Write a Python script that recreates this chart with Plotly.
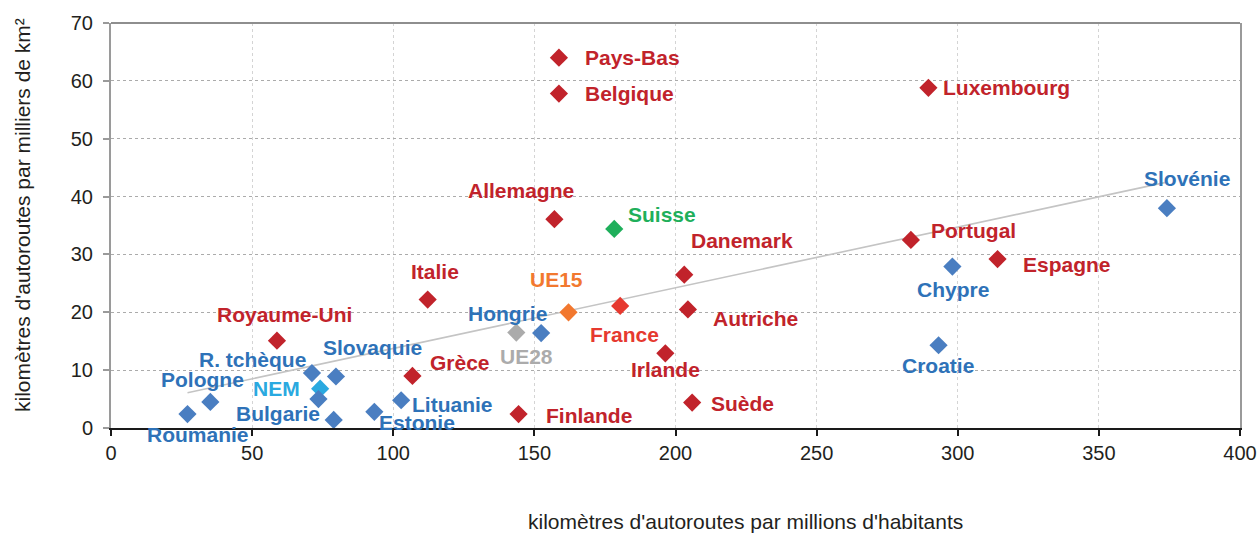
import plotly.graph_objects as go

# ---- data ----
names = ["Pays-Bas", "Belgique", "Luxembourg", "Allemagne", "Danemark", "Portugal",
         "Espagne", "Italie", "France", "Autriche", "Irlande", "Suède", "Finlande",
         "Royaume-Uni", "Grèce",
         "UE15", "UE28", "Suisse", "NEM",
         "Slovénie", "Chypre", "Croatie", "Hongrie", "Slovaquie", "R. tchèque",
         "Pologne", "Roumanie", "Bulgarie", "Estonie", "Lituanie", ""]
km_per_mhab = [158.7, 158.7, 289.6, 157.1, 203.1, 283.4,
               314.1, 112.2, 180.4, 204.4, 196.4, 205.9, 144.4,
               58.8, 106.8,
               162.1, 143.6, 178.3, 74.1,
               374.1, 298.1, 293.2, 152.4, 79.7, 71.2,
               35.2, 27.1, 73.5, 93.3, 102.8, 78.9]
km_per_kkm2 = [64.0, 57.8, 58.8, 36.1, 26.5, 32.5,
               29.2, 22.2, 21.1, 20.5, 12.9, 4.4, 2.4,
               15.1, 9.0,
               20.0, 16.5, 34.4, 6.8,
               38.0, 27.9, 14.3, 16.4, 8.9, 9.5,
               4.5, 2.4, 5.0, 2.8, 4.8, 1.4]
groups = ["ue15"] * 8 + ["france"] + ["ue15"] * 6 + ["agg15", "agg28", "ch", "nem"] + ["nms"] * 12

trend_x = [27.1, 374.1]
trend_y = [6.1, 42.5]

x_ticks = [0, 50, 100, 150, 200, 250, 300, 350, 400]
y_ticks = [0, 10, 20, 30, 40, 50, 60, 70]

# ---- styles ----
marker_col = {"ue15": "#C1232B", "france": "#E6392F", "agg15": "#F2782F", "agg28": "#ABABAB",
              "ch": "#1FAF5B", "nem": "#2AA9E0", "nms": "#4A7EC1"}
text_col = {"ue15": "#C1232B", "france": "#E6392F", "agg15": "#F2782F", "agg28": "#ABABAB",
            "ch": "#1FAF5B", "nem": "#2AA9E0", "nms": "#2E72B8"}

# label placement: anchor, dx, dy (pixels from marker centre, dy positive = down)
label_pos = {
    "Pays-Bas": ("left", 24, 0), "Belgique": ("left", 24, 0), "Luxembourg": ("left", 13, 0),
    "Allemagne": ("center", -33, -29), "Suisse": ("left", 12, -14), "Danemark": ("left", 5, -34),
    "Italie": ("center", 7, -28), "UE15": ("center", -12, -33), "Royaume-Uni": ("center", 8, -26),
    "Hongrie": ("center", -34, -20), "France": ("center", 4, 29), "Autriche": ("left", 23, 9),
    "Portugal": ("left", 18, -9), "Espagne": ("left", 23, 5), "Slovénie": ("center", 20, -30),
    "Chypre": ("center", 1, 23), "Croatie": ("center", -1, 20), "Irlande": ("center", 0, 16),
    "Suède": ("left", 17, 1), "Finlande": ("left", 25, 1), "UE28": ("center", 10, 24),
    "Grèce": ("left", 16, -13), "Slovaquie": ("center", 37, -29), "R. tchèque": ("center", -59, -14),
    "Pologne": ("center", -8, -22), "NEM": ("center", -44, 0), "Bulgarie": ("center", -40, 14),
    "Estonie": ("center", 43, 11), "Lituanie": ("left", 9, 4), "Roumanie": ("center", 11, 20),
}

FONT = "Liberation Sans, Arial, sans-serif"

fig = go.Figure()

fig.add_trace(go.Scatter(x=trend_x, y=trend_y, mode="lines",
                         line=dict(color="#C4C4C4", width=1.6), hoverinfo="skip",
                         showlegend=False))

fig.add_trace(go.Scatter(
    x=km_per_mhab, y=km_per_kkm2, mode="markers", text=names,
    marker=dict(symbol="diamond", size=14, color=[marker_col[g] for g in groups],
                line=dict(width=0)),
    showlegend=False, cliponaxis=False))

annotations = []
for n, xv, yv, g in zip(names, km_per_mhab, km_per_kkm2, groups):
    if not n:
        continue
    anc, dx, dy = label_pos[n]
    annotations.append(dict(x=xv, y=yv, xref="x", yref="y", text=f"<b>{n}</b>",
                            showarrow=False, xanchor=anc, yanchor="middle",
                            xshift=dx, yshift=-dy,
                            font=dict(family=FONT, size=21, color=text_col[g])))

annotations.append(dict(x=745, y=521, xref="paper", yref="paper",
                        xanchor="center", yanchor="middle",
                        text="kilomètres d'autoroutes par millions d'habitants",
                        showarrow=False, font=dict(family=FONT, size=21, color="#231F20")))
annotations.append(dict(x=22, y=215, xref="paper", yref="paper", textangle=-90,
                        xanchor="center", yanchor="middle",
                        text="kilomètres d'autoroutes par milliers de km²",
                        showarrow=False, font=dict(family=FONT, size=21, color="#231F20")))

# convert pixel paper positions to fractions
W, H = 1259, 533
ML, MR, MT, MB = 111, 19, 23, 105
pw, ph = W - ML - MR, H - MT - MB
for a in annotations[-2:]:
    a["x"] = (a["x"] - ML) / pw
    a["y"] = (H - MB - a["y"]) / ph

fig.update_layout(
    width=W, height=H, autosize=False,
    margin=dict(l=ML, r=MR, t=MT, b=MB, pad=0, autoexpand=False),
    paper_bgcolor="white", plot_bgcolor="white",
    font=dict(family=FONT, size=20, color="#231F20"),
    annotations=annotations,
    shapes=[dict(type="line", xref="paper", yref="paper", x0=0, x1=1, y0=1, y1=1,
                 line=dict(color="#8E8E8E", width=2))],
)

fig.update_xaxes(range=[0, 400], tickvals=x_ticks, ticktext=[str(v) for v in x_ticks],
                 showline=True, linecolor="#1A1A1A", linewidth=2, mirror=False,
                 ticks="outside", ticklen=6, tickcolor="#1A1A1A", tickwidth=2,
                 showgrid=True, gridcolor="#D4D4D4", griddash="dot", gridwidth=1,
                 zeroline=False, automargin=False, tickfont=dict(size=20, color="#231F20"))
fig.update_yaxes(range=[0, 70], tickvals=y_ticks, ticktext=[str(v) for v in y_ticks],
                 showline=True, linecolor="#9A9A9A", linewidth=2, mirror=True,
                 ticks="outside", ticklen=6, tickcolor="#9A9A9A", tickwidth=2,
                 showgrid=True, gridcolor="#ABABAB", griddash="dot", gridwidth=1,
                 zeroline=False, automargin=False, tickfont=dict(size=20, color="#231F20"),
                 ticklabelstandoff=6)

fig.write_html("out.html", config={"displayModeBar": False},
               post_script="document.body.style.margin='0';document.body.style.overflow='hidden';")
